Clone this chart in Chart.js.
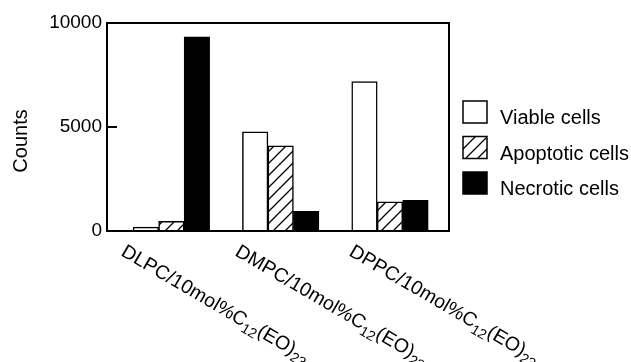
<!DOCTYPE html>
<html>
<head>
<meta charset="utf-8">
<script src="https://cdn.jsdelivr.net/npm/chart.js@4.4.1/dist/chart.umd.min.js"></script>
<style>
  html, body { margin: 0; padding: 0; background: #fff; }
</style>
</head>
<body>
<canvas id="cellChart" width="631" height="362"></canvas>
<script>
// categories (lipid mixtures) - label gets the rest of the formula with subscripts
const lipids = ['DLPC', 'DMPC', 'DPPC'];
const labelTail = [['/10mol%C', false], ['12', true], ['(EO)', false], ['23', true]];

const seriesNames = ['Viable cells', 'Apoptotic cells', 'Necrotic cells'];
const viable    = [190, 4770, 7180];
const apoptotic = [470, 4100, 1400];
const necrotic  = [9330, 950, 1480];

const yTicks = [0, 5000, 10000];

const FONT = '"Liberation Sans", Arial, Helvetica, sans-serif';

// diagonal hatch for apoptotic cells
function makeHatch() {
    const c = document.createElement('canvas');
    c.width = 12; c.height = 12;
    const g = c.getContext('2d');
    g.fillStyle = '#fff';
    g.fillRect(0, 0, 12, 12);
    g.strokeStyle = '#000';
    g.lineWidth = 1.3;
    g.beginPath();
    g.moveTo(-3, 15); g.lineTo(15, -3);
    g.moveTo(-3, 3);  g.lineTo(3, -3);
    g.moveTo(9, 15);  g.lineTo(15, 9);
    g.stroke();
    return g.createPattern(c, 'repeat');
}
const hatch = makeHatch();
const fills = ['#fff', hatch, '#000'];

const toPts = arr => arr.map((v, i) => ({ x: i, y: v }));

// frame, inward ticks, axis title, rotated category labels, legend
const decor = {
    id: 'decor',
    afterDatasetsDraw(chart) {
        const { ctx, chartArea: a, scales: { y } } = chart;
        ctx.save();
        ctx.strokeStyle = '#000';
        ctx.fillStyle = '#000';
        ctx.lineWidth = 2;
        ctx.strokeRect(a.left, a.top, a.width, a.height);

        yTicks.forEach(v => {
            const py = y.getPixelForValue(v);
            ctx.beginPath();
            ctx.moveTo(a.left, py);
            ctx.lineTo(a.left + 10, py);
            ctx.stroke();
        });

        // y title
        ctx.save();
        ctx.translate(21, (a.top + a.bottom) / 2 + 14);
        ctx.rotate(-Math.PI / 2);
        ctx.font = '20px ' + FONT;
        ctx.textAlign = 'center';
        ctx.textBaseline = 'middle';
        ctx.fillText('Counts', 0, 0);
        ctx.restore();

        // category labels, rotated downward
        lipids.forEach((name, i) => {
            ctx.save();
            ctx.translate(a.left + (i + 0.5) * a.width / 3 - 44, a.bottom + 24);
            ctx.rotate(0.53);
            ctx.textAlign = 'left';
            ctx.textBaseline = 'alphabetic';
            let x = 0;
            const parts = [[name + labelTail[0][0], false]].concat(labelTail.slice(1));
            parts.forEach(([txt, sub]) => {
                ctx.font = (sub ? '14px ' : '19.5px ') + FONT;
                ctx.fillText(txt, x, sub ? 5 : 0);
                x += ctx.measureText(txt).width;
            });
            ctx.restore();
        });

        // legend
        ctx.lineWidth = 1.5;
        seriesNames.forEach((name, k) => {
            const bx = a.right + 14, by = a.top + 78 + k * 35.5;
            ctx.fillStyle = fills[k];
            ctx.fillRect(bx, by, 24, 22);
            ctx.strokeRect(bx, by, 24, 22);
            ctx.fillStyle = '#000';
            ctx.font = '20px ' + FONT;
            ctx.textAlign = 'left';
            ctx.textBaseline = 'alphabetic';
            ctx.fillText(name, a.right + 51, by + 23);
        });
        ctx.restore();
    }
};

const ctx = document.getElementById('cellChart');
new Chart(ctx, {
    type: 'bar',
    data: {
        datasets: [
            { label: seriesNames[0], data: toPts(viable),    backgroundColor: fills[0], borderColor: '#000', borderWidth: 1.5, barThickness: 25.5 },
            { label: seriesNames[1], data: toPts(apoptotic), backgroundColor: fills[1], borderColor: '#000', borderWidth: 1.5, barThickness: 25.5 },
            { label: seriesNames[2], data: toPts(necrotic),  backgroundColor: fills[2], borderColor: '#000', borderWidth: 1.5, barThickness: 25.5 }
        ]
    },
    options: {
        responsive: false,
        animation: false,
        layout: { padding: { top: 23, right: 182, bottom: 131, left: 0 } },
        scales: {
            x: {
                type: 'linear',
                display: false,
                offset: false,
                min: -0.589,
                max: 2.54
            },
            y: {
                min: 0,
                max: 10000,
                afterBuildTicks: s => { s.ticks = yTicks.map(v => ({ value: v })); },
                afterFit: s => { s.width = 107; },
                ticks: {
                    color: '#000',
                    padding: 5,
                    font: { family: FONT, size: 19 },
                    callback: v => String(v)
                },
                grid: { display: false, drawTicks: false },
                border: { display: false }
            }
        },
        plugins: {
            legend: { display: false },
            tooltip: { enabled: false }
        }
    },
    plugins: [decor]
});
</script>
</body>
</html>
